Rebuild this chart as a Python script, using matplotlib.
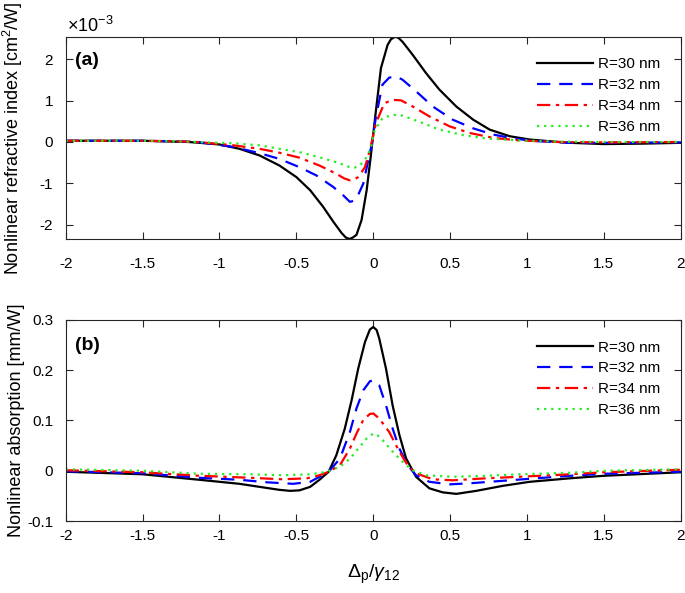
import matplotlib
matplotlib.use('Agg')
import matplotlib.pyplot as plt

plt.rcParams['font.family'] = ['Liberation Sans', 'DejaVu Sans']
plt.rcParams['mathtext.fontset'] = 'custom'
plt.rcParams['mathtext.rm'] = 'Liberation Sans'
plt.rcParams['mathtext.it'] = 'Liberation Sans:italic'
plt.rcParams['mathtext.bf'] = 'Liberation Sans:bold'

labels = ['R=30 nm', 'R=32 nm', 'R=34 nm', 'R=36 nm']

# (a) nonlinear refractive index, in units of 1e-3 cm^2/W
xa30 = [-2, -1.5, -1.2, -1.13, -1.0, -0.87, -0.74, -0.61, -0.5, -0.41, -0.326, -0.26, -0.207,
        -0.18, -0.157, -0.135, -0.109, -0.076, -0.043, -0.017, 0.017, 0.05, 0.093, 0.115,
        0.143, 0.165, 0.19, 0.257, 0.343, 0.43, 0.54, 0.65, 0.757, 0.887, 1.017, 1.19, 1.28,
        1.5, 1.75, 2.0]
ya30 = [0.03, 0.03, 0.0, -0.02, -0.06, -0.165, -0.325, -0.57, -0.85, -1.17, -1.57, -1.93, -2.2,
        -2.31, -2.35, -2.32, -2.25, -1.89, -1.17, -0.37, 0.75, 1.79, 2.35, 2.49,
        2.55, 2.52, 2.43, 2.11, 1.67, 1.27, 0.86, 0.54, 0.30, 0.14, 0.06, 0.005, -0.02,
        -0.05, -0.04, -0.02]

xa32 = [-2, -1.5, -1.2, -1.13, -0.91, -0.74, -0.61, -0.48, -0.37, -0.26, -0.196, -0.152, -0.13,
        -0.109, -0.065, -0.033, -0.011, 0.017, 0.06, 0.104, 0.148, 0.19, 0.278, 0.387, 0.517,
        0.65, 0.78, 0.91, 1.06, 1.28, 1.5, 2.0]
ya32 = [0.03, 0.03, 0.01, -0.004, -0.12, -0.27, -0.41, -0.61, -0.81, -1.09, -1.29, -1.45, -1.43,
        -1.37, -1.01, -0.45, -0.08, 0.6, 1.39, 1.56, 1.59, 1.51, 1.23, 0.86, 0.54,
        0.33, 0.18, 0.085, 0.02, -0.02, -0.02, -0.01]

xa34 = [-2, -1.5, -1.2, -1.13, -0.91, -0.74, -0.61, -0.48, -0.35, -0.24, -0.19, -0.152, -0.125,
        -0.098, -0.054, -0.022, 0.017, 0.072, 0.126, 0.18, 0.257, 0.365, 0.496, 0.626, 0.78,
        0.952, 1.2, 1.5, 2.0]
ya34 = [0.03, 0.03, 0.01, -0.004, -0.08, -0.165, -0.26, -0.38, -0.57, -0.77, -0.88, -0.93, -0.91,
        -0.85, -0.61, -0.2, 0.45, 0.94, 1.02, 1.01, 0.86, 0.62, 0.38, 0.22, 0.10,
        0.037, 0.0, -0.01, 0.0]

xa36 = [-2, -1.5, -1.2, -1.13, -0.91, -0.74, -0.61, -0.48, -0.35, -0.24, -0.152, -0.12, -0.087,
        -0.043, -0.011, 0.007, 0.06, 0.126, 0.19, 0.3, 0.43, 0.58, 0.735, 0.952, 1.2, 1.5, 2.0]
ya36 = [0.03, 0.03, 0.01, -0.004, -0.03, -0.08, -0.165, -0.245, -0.37, -0.49, -0.61, -0.62, -0.57,
        -0.37, -0.08, 0.26, 0.58, 0.66, 0.64, 0.49, 0.30, 0.17, 0.085, 0.037, 0.01, 0.0, 0.0]

# (b) nonlinear absorption, mm/W
xb30 = [-2, -1.5, -1.13, -1.0, -0.87, -0.74, -0.61, -0.54, -0.48, -0.41, -0.35, -0.29, -0.24,
        -0.185, -0.141, -0.098, -0.054, -0.022, 0, 0.022, 0.039, 0.083, 0.126, 0.17, 0.213,
        0.278, 0.365, 0.452, 0.54, 0.67, 0.843, 1.017, 1.28, 1.5, 2.0]
yb30 = [-0.002, -0.007, -0.018, -0.022, -0.026, -0.032, -0.038, -0.04, -0.039, -0.032, -0.018,
        -0.002, 0.031, 0.084, 0.140, 0.203, 0.256, 0.281, 0.286, 0.280, 0.263, 0.203, 0.13,
        0.071, 0.025, -0.012, -0.035, -0.043, -0.046, -0.04, -0.03, -0.022, -0.015, -0.01,
        -0.003]

xb32 = [-2, -1.5, -1.13, -0.87, -0.69, -0.52, -0.41, -0.35, -0.29, -0.217, -0.152, -0.109,
        -0.065, -0.022, 0, 0.039, 0.083, 0.126, 0.17, 0.224, 0.278, 0.365, 0.496, 0.626, 0.843,
        1.06, 1.28, 1.5, 2.0]
yb32 = [-0.001, -0.005, -0.014, -0.018, -0.023, -0.026, -0.022, -0.012, -0.002, 0.024, 0.077,
        0.124, 0.160, 0.178, 0.180, 0.170, 0.13, 0.084, 0.044, 0.011, -0.009, -0.022, -0.027,
        -0.025, -0.02, -0.015, -0.010, -0.006, -0.002]

xb34 = [-2, -1.5, -1.13, -0.8, -0.59, -0.43, -0.35, -0.29, -0.217, -0.152, -0.109, -0.065,
        -0.022, 0, 0.039, 0.104, 0.17, 0.224, 0.278, 0.387, 0.517, 0.735, 0.952, 1.28, 1.5, 2.0]
yb34 = [0.001, -0.003, -0.010, -0.014, -0.017, -0.015, -0.009, -0.002, 0.011, 0.044, 0.074,
        0.101, 0.113, 0.114, 0.104, 0.077, 0.038, 0.011, -0.005, -0.017, -0.019, -0.015,
        -0.012, -0.007, -0.003, 0.002]

xb36 = [-2, -1.5, -1.13, -0.8, -0.59, -0.41, -0.30, -0.217, -0.152, -0.087, -0.043, 0, 0.03,
        0.061, 0.126, 0.19, 0.257, 0.343, 0.517, 0.735, 0.952, 1.28, 1.5, 2.0]
yb36 = [0.003, 0.0, -0.006, -0.007, -0.009, -0.007, -0.002, 0.008, 0.024, 0.048, 0.064, 0.074,
        0.07, 0.061, 0.038, 0.018, 0.001, -0.009, -0.012, -0.010, -0.007, -0.004, 0.0, 0.003]

styles = [
    dict(color='black', linestyle='-'),
    dict(color='#0000ff', dashes=(6, 4)),
    dict(color='#ff0000', dashes=(6, 2.5, 1.5, 2.5)),
    dict(color='#22ee22', dashes=(1, 2.2)),
]

fig = plt.figure(figsize=(6.85, 5.93), dpi=100)
ax1 = fig.add_axes([0.0959, 0.597, 0.898, 0.341])
ax2 = fig.add_axes([0.0959, 0.1214, 0.898, 0.339])

for xs, ys, st, lab in zip([xa30, xa32, xa34, xa36], [ya30, ya32, ya34, ya36], styles, labels):
    ax1.plot(xs, ys, lw=1.6, label=lab, **st)
for xs, ys, st, lab in zip([xb30, xb32, xb34, xb36], [yb30, yb32, yb34, yb36], styles, labels):
    ax2.plot(xs, ys, lw=1.6, label=lab, **st)

ax1.set_ylim(-2.35, 2.55)
ax1.set_yticks([-2, -1, 0, 1, 2])
ax2.set_ylim(-0.1, 0.3)
ax2.set_yticks([-0.1, 0, 0.1, 0.2, 0.3])

for ax in (ax1, ax2):
    ax.set_xlim(-2, 2)
    ax.set_xticks([-2, -1.5, -1, -0.5, 0, 0.5, 1, 1.5, 2])
    ax.set_xticklabels(['-2', '-1.5', '-1', '-0.5', '0', '0.5', '1', '1.5', '2'])
    ax.tick_params(direction='in', top=True, right=True, labelsize=11, length=5,
                   width=0.8, colors='#262626', labelcolor='black')
    for s in ax.spines.values():
        s.set_color('#262626')
        s.set_linewidth(0.8)
    ax.legend(loc='upper right', frameon=False, fontsize=11, handlelength=3.7,
              handletextpad=0.3, labelspacing=0.45, borderaxespad=0.95)

ax1.tick_params(axis='x', pad=13)
ax1.tick_params(axis='y', pad=9)
ax2.tick_params(axis='x', pad=6)
ax2.tick_params(axis='y', pad=9)

ax1.set_yticklabels(['-2', '-1', '0', '1', '2'])
ax2.set_yticklabels(['-0.1', '0', '0.1', '0.2', '0.3'])

ax1.text(0.002, 1.005, r'$\times10^{-3}$', transform=ax1.transAxes, ha='left', va='bottom',
         fontsize=13)
ax1.text(-1.94, 1.97, '(a)', fontsize=14, fontweight='bold', va='center')
ax2.text(-1.94, 0.25, '(b)', fontsize=14, fontweight='bold', va='center')

ax1.set_ylabel('Nonlinear refractive index [cm$^2$/W]', fontsize=13)
ax2.set_ylabel('Nonlinear absorption [mm/W]', fontsize=13)
ax1.yaxis.set_label_coords(-0.066, 0.5)
ax2.yaxis.set_label_coords(-0.066, 0.5)
ax2.set_xlabel(r'$\Delta_{\rm p}/\gamma_{12}$', fontsize=14, labelpad=14)

fig.savefig('out.png', dpi=100)
